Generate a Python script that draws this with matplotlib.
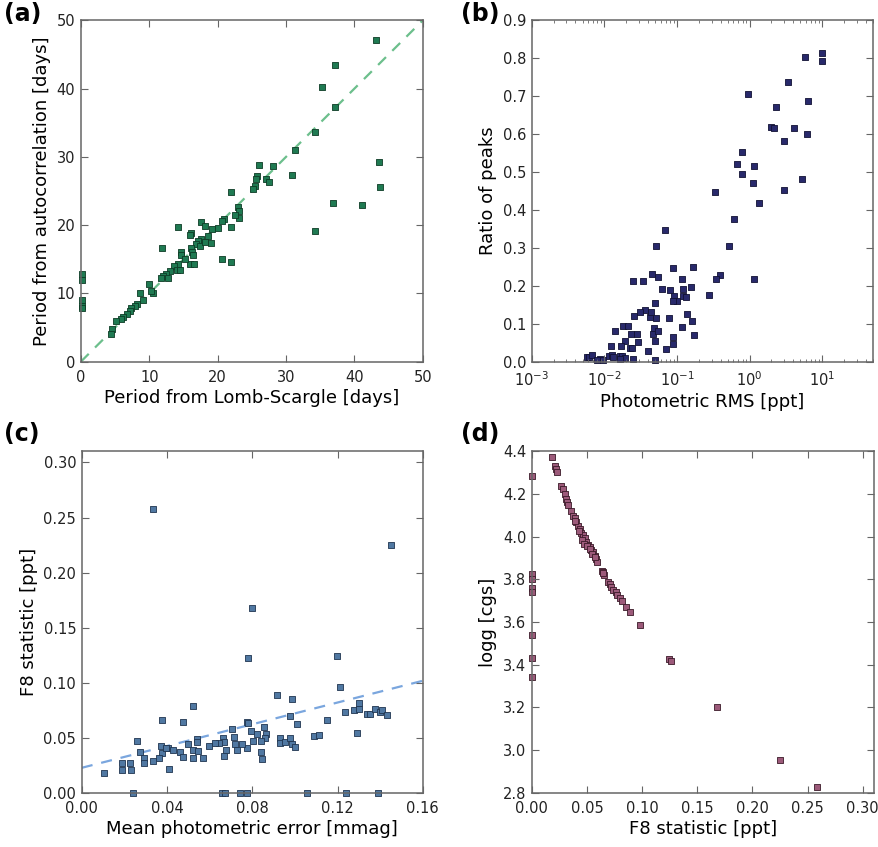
import numpy as np
import matplotlib
matplotlib.use('Agg')
import matplotlib.pyplot as plt
from matplotlib.ticker import FormatStrFormatter, LogLocator

# (a) period comparison
ls_period = [43.1, 37.1, 35.3, 37.1, 34.3, 31.3, 43.6, 43.7, 30.9, 28.1, 26.1, 25.7,
             25.6, 25.4, 25.2, 27.0, 27.5, 36.9, 41.1, 34.3, 22.0, 23.0, 23.1, 23.1,
             22.5, 21.0, 20.7, 21.9, 20.1, 19.2, 17.6, 18.1, 18.6, 19.1, 17.6, 17.2,
             16.9, 17.4, 18.1, 16.1, 16.0, 16.1, 16.2, 16.4, 15.9, 16.6, 20.7, 21.9,
             14.2, 14.7, 14.7, 15.3, 11.8, 14.2, 13.6, 14.0, 14.5, 13.0, 12.5, 12.0,
             11.7, 12.8, 10.6, 10.2, 10.0, 8.6, 9.1, 8.2, 7.9, 7.4, 7.2, 6.7, 6.2,
             5.8, 5.2, 4.5, 4.4, 0.2, 0.2, 0.2, 0.2, 0.1]
acf_period = [47.1, 43.4, 40.3, 37.3, 33.7, 31.0, 29.3, 25.6, 27.4, 28.6, 28.8, 27.2,
              26.7, 25.8, 25.3, 26.7, 26.3, 23.2, 23.0, 19.1, 24.9, 22.7, 22.0, 21.1,
              21.5, 20.9, 20.6, 19.7, 19.6, 19.4, 20.4, 19.9, 18.4, 17.4, 17.9, 17.7,
              17.2, 16.9, 17.5, 18.9, 18.5, 16.7, 16.1, 15.6, 14.3, 14.3, 15.1, 14.6,
              19.7, 16.0, 15.6, 15.0, 16.7, 14.3, 14.0, 13.5, 13.4, 13.3, 12.8, 12.5,
              12.2, 12.2, 10.1, 10.4, 11.4, 10.1, 9.0, 8.5, 8.2, 7.9, 7.4, 7.0, 6.5,
              6.2, 6.0, 4.8, 4.0, 12.8, 11.9, 9.1, 8.2, 7.9]

# (b) ratio of peaks vs photometric rms
rms = [10.0, 10.0, 5.9, 3.4, 0.96, 6.3, 2.35, 1.97, 2.18, 4.1, 6.1, 3.0, 0.78, 0.68,
       0.78, 1.16, 1.12, 5.2, 3.0, 0.337, 1.36, 0.61, 0.068, 0.051, 0.52, 0.088,
       0.168, 0.046, 0.055, 0.025, 0.034, 0.118, 0.39, 0.344, 1.15, 0.063, 0.080,
       0.154, 0.122, 0.28, 0.092, 0.122, 0.133, 0.101, 0.087, 0.050, 0.036, 0.031,
       0.026, 0.043, 0.044, 0.052, 0.077, 0.139, 0.159, 0.014, 0.018, 0.021, 0.023,
       0.028, 0.047, 0.049, 0.055, 0.118, 0.171, 0.019, 0.029, 0.050, 0.0122, 0.017,
       0.0225, 0.024, 0.040, 0.089, 0.089, 0.070, 0.0057, 0.0062, 0.0067, 0.0087,
       0.0097, 0.0114, 0.0126, 0.0164, 0.0173, 0.0192, 0.025, 0.050, 0.0133, 0.0078,
       0.0164]
peak_ratio = [0.813, 0.793, 0.804, 0.738, 0.705, 0.687, 0.672, 0.618, 0.616, 0.616,
              0.600, 0.581, 0.553, 0.522, 0.496, 0.517, 0.471, 0.482, 0.453, 0.448,
              0.419, 0.377, 0.348, 0.305, 0.306, 0.248, 0.250, 0.230, 0.222, 0.213,
              0.214, 0.217, 0.228, 0.217, 0.217, 0.191, 0.188, 0.197, 0.191, 0.176,
              0.173, 0.173, 0.171, 0.160, 0.160, 0.155, 0.136, 0.130, 0.121, 0.118,
              0.132, 0.115, 0.115, 0.127, 0.108, 0.081, 0.095, 0.095, 0.074, 0.073,
              0.073, 0.088, 0.081, 0.092, 0.070, 0.055, 0.053, 0.055, 0.040, 0.042,
              0.035, 0.037, 0.029, 0.046, 0.064, 0.033, 0.011, 0.013, 0.018, 0.007,
              0.005, 0.014, 0.018, 0.014, 0.016, 0.009, 0.007, 0.005, 0.012, 0.004,
              0.006]

# (c) F8 vs mean photometric error
phot_err = [0.0332, 0.1452, 0.0799, 0.0780, 0.1199, 0.1210, 0.0918, 0.0988, 0.0520,
            0.0376, 0.0473, 0.0773, 0.0782, 0.0976, 0.1152, 0.1012, 0.0855, 0.0796,
            0.1233, 0.1277, 0.1299, 0.1299, 0.1339, 0.1350, 0.1378, 0.1397, 0.1410,
            0.1431, 0.1291, 0.1090, 0.1111, 0.0706, 0.0824, 0.0866, 0.0861, 0.0843,
            0.0843, 0.0846, 0.0804, 0.0776, 0.0750, 0.0715, 0.0721, 0.0729, 0.0663,
            0.0668, 0.0645, 0.0624, 0.0598, 0.0679, 0.0667, 0.0929, 0.0929, 0.0955,
            0.0976, 0.0988, 0.0999, 0.0539, 0.0539, 0.0500, 0.0520, 0.0546, 0.0567,
            0.0520, 0.0460, 0.0473, 0.0406, 0.0426, 0.0372, 0.0378, 0.0364, 0.0336,
            0.0393, 0.0409, 0.0258, 0.0273, 0.0292, 0.0293, 0.0226, 0.0187, 0.0187,
            0.0229, 0.0105, 0.0242, 0.0660, 0.0671, 0.0741, 0.0776, 0.1057, 0.1241,
            0.1390]
f8_c = [0.258, 0.2246, 0.1677, 0.1228, 0.1243, 0.0959, 0.0890, 0.0850, 0.0790,
        0.0660, 0.0640, 0.0643, 0.0637, 0.0698, 0.0659, 0.0625, 0.0597, 0.0560,
        0.0735, 0.0750, 0.0811, 0.0759, 0.0714, 0.0720, 0.0759, 0.0738, 0.0750,
        0.0707, 0.0539, 0.0515, 0.0524, 0.0576, 0.0530, 0.0530, 0.0500, 0.0469,
        0.0368, 0.0307, 0.0469, 0.0408, 0.0439, 0.0506, 0.0439, 0.0393, 0.0500,
        0.0460, 0.0454, 0.0448, 0.0423, 0.0393, 0.0332, 0.0500, 0.0454, 0.0460,
        0.0500, 0.0439, 0.0417, 0.0491, 0.0460, 0.0439, 0.0393, 0.0384, 0.0316,
        0.0316, 0.0371, 0.0326, 0.0408, 0.0393, 0.0429, 0.0362, 0.0316, 0.0286,
        0.0408, 0.0216, 0.0469, 0.0368, 0.0316, 0.0270, 0.0270, 0.0270, 0.0209,
        0.0203, 0.0176, 0.0, 0.0, 0.0, 0.0, 0.0, 0.0, 0.0, 0.0]
fit_intercept = 0.0227
fit_slope = 0.494

# (d) logg vs F8
f8_d = [0.0185, 0.0206, 0.0215, 0.0224, 0.0266, 0.0282, 0.0297, 0.0312, 0.0321, 0.0327,
        0.0351, 0.0372, 0.0388, 0.0403, 0.0418, 0.0433, 0.0448, 0.0463, 0.0478, 0.0493,
        0.0509, 0.0524, 0.0539, 0.0554, 0.0569, 0.0584, 0.0593, 0.0639, 0.0645, 0.0654,
        0.0690, 0.0705, 0.0720, 0.0736, 0.0760, 0.0772, 0.0796, 0.0820, 0.0851, 0.0893,
        0.0981, 0.1244, 0.1259, 0.1680, 0.2250, 0.2582, 0.0395, 0.0425, 0.0455, 0.0470,
        0.0500, 0.0530, 0.0545, 0.0575, 0.0650, 0.0000, 0.0000, 0.0000, 0.0000, 0.0000,
        0.0000, 0.0000, 0.0000]
logg = [4.375, 4.333, 4.320, 4.306, 4.239, 4.223, 4.200, 4.177, 4.161, 4.148,
        4.122, 4.098, 4.086, 4.067, 4.052, 4.036, 4.020, 4.008, 3.992, 3.977,
        3.961, 3.950, 3.937, 3.927, 3.911, 3.895, 3.880, 3.841, 3.833, 3.822,
        3.789, 3.778, 3.763, 3.750, 3.739, 3.727, 3.711, 3.697, 3.673, 3.648,
        3.587, 3.427, 3.417, 3.200, 2.953, 2.825, 4.076, 4.028, 3.985, 3.968,
        3.955, 3.942, 3.918, 3.903, 3.828, 4.283, 3.825, 3.800, 3.760, 3.739,
        3.539, 3.431, 3.344]

plt.rcParams['font.family'] = 'DejaVu Sans'
fig = plt.figure(figsize=(8.79, 8.47), dpi=100)

ax_a = fig.add_axes([0.092, 0.573, 0.389, 0.403])
ax_b = fig.add_axes([0.605, 0.573, 0.388, 0.403])
ax_c = fig.add_axes([0.093, 0.064, 0.388, 0.403])
ax_d = fig.add_axes([0.605, 0.064, 0.389, 0.403])


def style(ax):
    for sp in ax.spines.values():
        sp.set_color('#666666')
        sp.set_linewidth(1.1)
    ax.tick_params(which='both', direction='in', top=True, right=True,
                   color='#666666', labelsize=10.5, labelcolor='#222222')
    ax.tick_params(which='major', length=5)
    ax.tick_params(which='minor', length=2.5)
    ax.tick_params(axis='y', pad=4)
    ax.tick_params(axis='x', pad=6)


ms = 13
ax_a.plot([0, 50], [0, 50], ls='--', color='#6cbf8c', lw=1.6, dashes=(5, 4), zorder=1)
ax_a.scatter(ls_period, acf_period, s=ms, marker='s', c='#1f7a52',
             edgecolors='#0d3b25', linewidths=0.6, zorder=2, clip_on=False)
ax_a.set_xlim(0, 50)
ax_a.set_ylim(0, 50)
ax_a.set_xticks(np.arange(0, 51, 10))
ax_a.set_yticks(np.arange(0, 51, 10))
ax_a.set_xlabel('Period from Lomb-Scargle [days]', fontsize=13, labelpad=3)
ax_a.set_ylabel('Period from autocorrelation [days]', fontsize=13)
style(ax_a)

ax_b.scatter(rms, peak_ratio, s=ms, marker='s', c='#28296b',
             edgecolors='#111133', linewidths=0.6, clip_on=False)
ax_b.set_xscale('log')
ax_b.set_xlim(1e-3, 50)
ax_b.set_ylim(0, 0.9)
ax_b.set_yticks(np.arange(0, 0.91, 0.1))
ax_b.yaxis.set_major_formatter(FormatStrFormatter('%.1f'))
ax_b.xaxis.set_major_locator(LogLocator(base=10, numticks=10))
ax_b.xaxis.set_minor_locator(LogLocator(base=10, subs=np.arange(2, 10), numticks=20))
ax_b.set_xlabel('Photometric RMS [ppt]', fontsize=13, labelpad=3)
ax_b.set_ylabel('Ratio of peaks', fontsize=13)
style(ax_b)

xs = np.array([0, 0.16])
ax_c.plot(xs, fit_intercept + fit_slope * xs, ls='--', color='#7aa6de', lw=1.6,
          dashes=(5, 4), zorder=1)
ax_c.scatter(phot_err, f8_c, s=ms, marker='s', c='#5078a2',
             edgecolors='#1f3550', linewidths=0.6, zorder=2, clip_on=False)
ax_c.set_xlim(0, 0.16)
ax_c.set_ylim(0, 0.31)
ax_c.set_xticks(np.arange(0, 0.161, 0.04))
ax_c.set_yticks(np.arange(0, 0.301, 0.05))
ax_c.xaxis.set_major_formatter(FormatStrFormatter('%.2f'))
ax_c.yaxis.set_major_formatter(FormatStrFormatter('%.2f'))
ax_c.set_xlabel('Mean photometric error [mmag]', fontsize=13, labelpad=3)
ax_c.set_ylabel('F8 statistic [ppt]', fontsize=13)
style(ax_c)

ax_d.scatter(f8_d, logg, s=ms, marker='s', c='#9c5a7a',
             edgecolors='#3a1a28', linewidths=0.6, clip_on=False)
ax_d.set_xlim(0, 0.31)
ax_d.set_ylim(2.8, 4.4)
ax_d.set_xticks(np.arange(0, 0.301, 0.05))
ax_d.set_yticks(np.arange(2.8, 4.41, 0.2))
ax_d.xaxis.set_major_formatter(FormatStrFormatter('%.2f'))
ax_d.yaxis.set_major_formatter(FormatStrFormatter('%.1f'))
ax_d.set_xlabel('F8 statistic [ppt]', fontsize=13, labelpad=3)
ax_d.set_ylabel('logg [cgs]', fontsize=13)
style(ax_d)

for lab, x, y in [('(a)', 0.005, 0.998), ('(b)', 0.524, 0.998),
                  ('(c)', 0.005, 0.502), ('(d)', 0.524, 0.502)]:
    fig.text(x, y, lab, fontsize=17, fontweight='bold', va='top', ha='left')

fig.savefig('out.png', dpi=100)
